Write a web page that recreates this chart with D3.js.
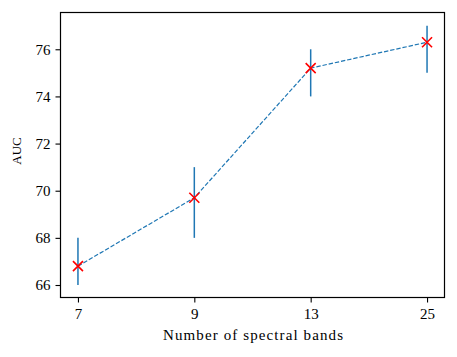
<!DOCTYPE html>
<html>
<head>
<meta charset="utf-8">
<script src="https://cdn.jsdelivr.net/npm/d3@7"></script>
<style>
  body { margin: 0; background: #fff; }
  svg text { font-family: "Liberation Serif", "DejaVu Serif", serif; fill: #000; }
</style>
</head>
<body>
<div id="chart"></div>
<script>
var bands = ['7', '9', '13', '25'];
var auc = [66.8, 69.7, 75.2, 76.3];
var aucLow = [66, 68, 74, 75];
var aucHigh = [68, 71, 76, 77];
var yTicks = [66, 68, 70, 72, 74, 76];

var W = 457, H = 357;
var margin = {top: 12.5, right: 12.5, bottom: 59.5, left: 60.5},
    width = W - margin.left - margin.right,
    height = H - margin.top - margin.bottom;

var svg = d3.select('#chart').append('svg')
    .attr('width', W).attr('height', H);
var g = svg.append('g')
    .attr('transform', 'translate(' + margin.left + ',' + margin.top + ')');

var x = d3.scaleLinear().domain([-0.15, 3.15]).range([0, width]);
var y = d3.scaleLinear().domain([65.47, 77.56]).range([height, 0]);

var data = bands.map(function(b, i) {
    return {band: b, i: i, v: auc[i], lo: aucLow[i], hi: aucHigh[i]};
});

// error bars
g.selectAll('.err').data(data).enter().append('line')
    .attr('x1', d => x(d.i)).attr('x2', d => x(d.i))
    .attr('y1', d => y(d.lo)).attr('y2', d => y(d.hi))
    .attr('stroke', '#1f77b4').attr('stroke-width', 1.5);

// dashed line
var line = d3.line().x(d => x(d.i)).y(d => y(d.v));
g.append('path').datum(data)
    .attr('d', line)
    .attr('fill', 'none')
    .attr('stroke', '#1f77b4')
    .attr('stroke-width', 1.2)
    .attr('stroke-dasharray', '4.4,1.9');

// x markers
var s = 5;
g.selectAll('.mk').data(data).enter().append('path')
    .attr('d', d => {
        var cx = x(d.i), cy = y(d.v);
        return 'M' + (cx - s) + ',' + (cy - s) + 'L' + (cx + s) + ',' + (cy + s) +
               'M' + (cx - s) + ',' + (cy + s) + 'L' + (cx + s) + ',' + (cy - s);
    })
    .attr('stroke', '#ff0000').attr('stroke-width', 1.6).attr('fill', 'none');

// axes
var xAxis = d3.axisBottom(x).tickValues([0, 1, 2, 3])
    .tickFormat(i => bands[i]).tickSize(5).tickPadding(6);
var yAxis = d3.axisLeft(y).tickValues(yTicks).tickSize(5).tickPadding(5);

var gx = g.append('g').attr('transform', 'translate(0,' + height + ')').call(xAxis);
var gy = g.append('g').call(yAxis);
[gx, gy].forEach(function(a) {
    a.select('.domain').remove();
    a.selectAll('.tick line').attr('stroke', '#000').attr('stroke-width', 1.1);
    a.selectAll('.tick text').style('font-size', '15px')
        .style('font-family', '"Liberation Serif", serif');
});

// frame
g.append('rect').attr('width', width).attr('height', height)
    .attr('fill', 'none').attr('stroke', '#000').attr('stroke-width', 1.2);

// labels
svg.append('text')
    .attr('x', 163).attr('y', 340)
    .attr('textLength', 180).attr('lengthAdjust', 'spacing')
    .style('font-size', '15px')
    .text('Number of spectral bands');
svg.append('text')
    .attr('transform', 'translate(20.5,151) rotate(-90)')
    .attr('text-anchor', 'middle').style('font-size', '13px')
    .text('AUC');
</script>
</body>
</html>
